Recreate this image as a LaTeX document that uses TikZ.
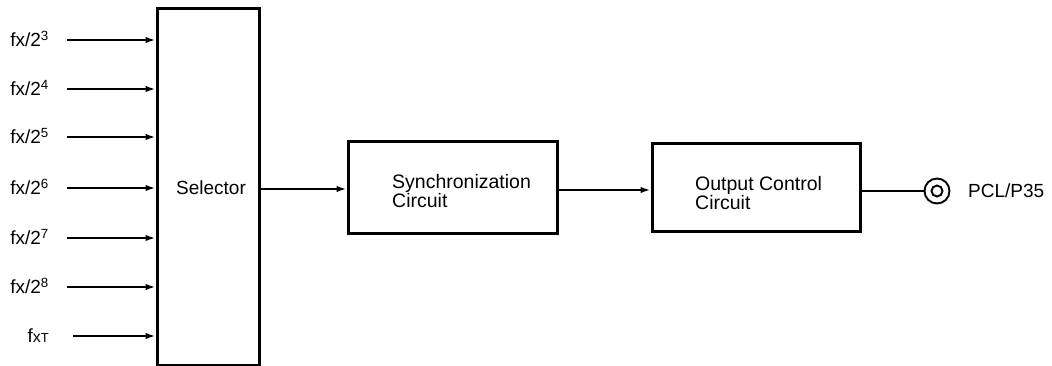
\documentclass[tikz,border=0pt]{standalone}
\usepackage{fontspec}
\setmainfont{Liberation Sans}
\usetikzlibrary{arrows.meta}
\begin{document}
\begin{tikzpicture}[x=1pt,y=-1pt,
  blk/.style={draw,line width=3pt,inner sep=0pt},
  conn/.style={line width=1.9pt},
  arr/.style={conn,-{Latex[length=10pt,width=6.5pt]}},
  lbl/.style={inner sep=0pt,font=\fontsize{19}{19}\selectfont},
  btxt/.style={inner sep=0pt,align=left,anchor=west,font=\fontsize{19.5}{18.5}\selectfont}]
\useasboundingbox (0,0) rectangle (1052,366);
% boxes
\node[blk,minimum width=102pt,minimum height=356pt] (sel) at (208,187) {};
\node[lbl] (seltxt) at (211,188) {Selector};
\node[blk,minimum width=209pt,minimum height=92pt] (sync) at (452.5,188) {};
\node[btxt] (synctxt) at (392,191) {Synchronization\\Circuit};
\node[blk,minimum width=208pt,minimum height=88pt] (outc) at (756,188) {};
\node[btxt] (outtxt) at (695,193) {Output Control\\Circuit};
% inputs
\foreach \i/\y/\t in {1/40/{fx/2\textsuperscript{3}},
                      2/89/{fx/2\textsuperscript{4}},
                      3/137/{fx/2\textsuperscript{5}},
                      4/188/{fx/2\textsuperscript{6}},
                      5/238/{fx/2\textsuperscript{7}},
                      6/287/{fx/2\textsuperscript{8}}}{
  \coordinate (in\i) at (67,\y);
  \node[lbl,anchor=base east] (l\i) at (49,\y+6.5) {\t};
  \draw[arr] (in\i) -- (sel.west |- in\i);
}
\coordinate (in7) at (73,336);
\node[lbl,anchor=base east] (l7) at (49,342.5) {f{\fontsize{16}{16}\selectfont x}{\fontsize{13}{13}\selectfont T}};
\draw[arr] (in7) -- (sel.west |- in7);
% chain
\coordinate (s1) at (259,189);
\draw[arr] (sel.east |- s1) -- (sync.west |- s1);
\coordinate (s2) at (557,190);
\draw[arr] (sync.east |- s2) -- (outc.west |- s2);
% terminal
\node[draw,circle,line width=1.9pt,minimum size=25pt,inner sep=0pt] (term) at (937,191) {};
\node[draw,circle,line width=1.9pt,minimum size=11pt,inner sep=0pt] (termin) at (term.center) {};
\draw[conn] (outc.east |- term) -- (term.west);
\node[lbl,anchor=west] (pcl) at (968,191) {PCL/P35};
\end{tikzpicture}
\end{document}
